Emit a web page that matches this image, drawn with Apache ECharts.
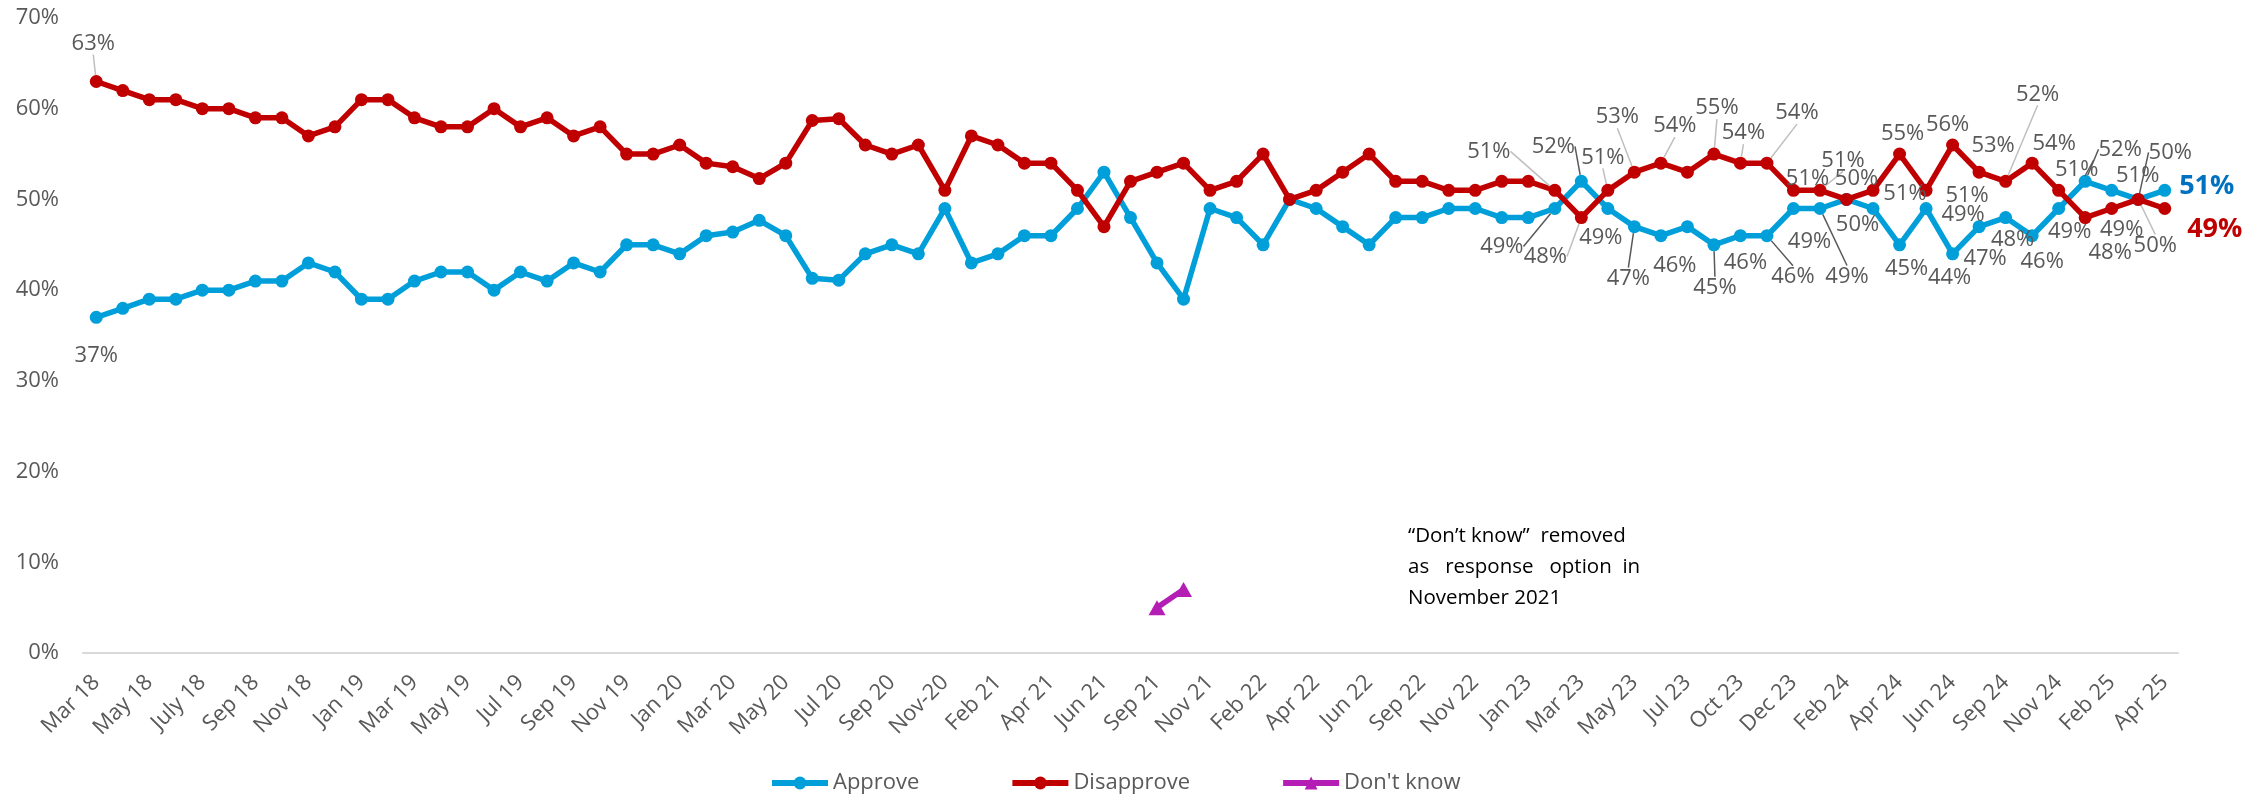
<!DOCTYPE html>
<html>
<head>
<meta charset="utf-8">
<script src="https://cdn.jsdelivr.net/npm/echarts@6/dist/echarts.min.js"></script>
<style>
html,body{margin:0;padding:0;background:#ffffff;}
#chart{width:2246px;height:795px;}
</style>
</head>
<body>
<div id="chart"></div>
<script>
// ---- tick labels (every second survey) ----
const tickLabels = ['Mar 18','May 18','July 18','Sep 18','Nov 18','Jan 19','Mar 19','May 19','Jul 19','Sep 19',
  'Nov 19','Jan 20','Mar 20','May 20','Jul 20','Sep 20','Nov-20','Feb 21','Apr 21','Jun 21',
  'Sep 21','Nov 21','Feb 22','Apr 22','Jun 22','Sep 22','Nov 22','Jan 23','Mar 23','May 23',
  'Jul 23','Oct 23','Dec 23','Feb 24','Apr 24','Jun 24','Sep 24','Nov 24','Feb 25','Apr 25'];

// ---- series values (%) ----
const approve = [37,38,39,39,40,40,41,41,43,42,
  39,39,41,42,42,40,42,41,43,42,
  45,45,44,46,46.4,47.7,46,41.3,41.1,44,
  45,44,49,43,44,46,46,49,53,48,
  43,39,49,48,45,50,49,47,45,48,
  48,49,49,48,48,49,52,49,47,46,
  47,45,46,46,49,49,50,49,45,49,
  44,47,48,46,49,52,51,50,51];
const disapprove = [63,62,61,61,60,60,59,59,57,58,
  61,61,59,58,58,60,58,59,57,58,
  55,55,56,54,53.6,52.3,54,58.7,58.9,56,
  55,56,51,57,56,54,54,51,47,52,
  53,54,51,52,55,50,51,53,55,52,
  52,51,51,52,52,51,48,51,53,54,
  53,55,54,54,51,51,50,51,55,51,
  56,53,52,54,51,48,49,50,49];
const dontKnowIndex = [40, 41];
const dontKnow = [5, 7];

// categories: one per survey, named at every second survey
const categories = [];
for (let i = 0; i < approve.length; i++) categories.push(i % 2 === 0 ? tickLabels[i / 2] : '');

// ---- label placement: dataIndex -> [dx, dy, leader, boldColor] ----
const approveLabels = {
  0:[0,38], 55:[-53,38,1], 56:[-28,-35,1], 57:[-7,29], 58:[-6,52,1], 59:[14,30],
  61:[1,43,1], 62:[5,27], 63:[26,41,1], 64:[16,33], 65:[27,68,1], 66:[11,25],
  68:[7,24], 69:[37,6], 70:[-3,24], 71:[6,32], 72:[7,22], 73:[10,26], 74:[11,23],
  75:[35,-32,1], 76:[26,-15], 77:[32,-47,1], 78:[42,-4,0,'#0070C0']
};
const disapproveLabels = {
  0:[-3,-38,1], 55:[-66,-39,1], 56:[-36,39,1], 57:[-5,-33,1], 58:[-17,-55,1], 59:[14,-37,1],
  61:[3,-46,1], 62:[3,-30,1], 63:[30,-50,1], 64:[14,-12], 65:[23,-30,1], 66:[10,-21],
  67:[32,3], 68:[3,-20], 69:[41,5], 70:[-5,-20], 71:[14,-26], 72:[32,-87,1], 73:[22,-19],
  74:[18,-21], 75:[25,35], 76:[10,21], 77:[17,46,1], 78:[50,21,0,'#C00000']
};

const BLUE = '#009FDA', RED = '#C00000', PURPLE = '#B41EB4';
const GREY = '#595959';
const FONT = '"Open Sans", "Noto Sans", sans-serif';

function buildData(values, labels, leaderColor) {
  return values.map((v, i) => {
    const L = labels[i];
    if (!L) return v;
    const item = { value: v, label: { show: true } };
    if (L[3]) item.label = { show: true, fontWeight: 'bold', fontSize: 27, color: L[3] };
    if (L[2]) item.labelLine = { show: true, lineStyle: { color: leaderColor, width: 1.5 } };
    return item;
  });
}

const labelBase = {
  show: false, position: 'inside', formatter: '{c}%', color: GREY,
  fontSize: 22, fontFamily: FONT, align: 'center', verticalAlign: 'middle'
};

const chart = echarts.init(document.getElementById('chart'), null, { renderer: 'canvas' });
chart.setOption({
  animation: false,
  backgroundColor: '#ffffff',
  grid: { left: 83, right: 68, top: 18, bottom: 142, containLabel: false },
  xAxis: {
    type: 'category', data: categories, boundaryGap: true,
    axisLine: { lineStyle: { color: '#D9D9D9', width: 2 } },
    axisTick: { show: false },
    axisLabel: { interval: 1, rotate: 45, color: GREY, fontSize: 22, fontFamily: FONT, margin: 26 }
  },
  yAxis: {
    type: 'value', min: 0, max: 70, interval: 10,
    axisLine: { show: false }, axisTick: { show: false }, splitLine: { show: false },
    axisLabel: { formatter: '{value}%', color: GREY, fontSize: 22, fontFamily: FONT, margin: 24 }
  },
  legend: {
    data: ['Approve', 'Disapprove', "Don't know"],
    left: 764, top: 767, itemWidth: 56, itemHeight: 16, itemGap: 90,
    lineStyle: { width: 6 },
    textStyle: { fontFamily: FONT, fontSize: 22, color: GREY }
  },
  graphic: [{
    type: 'text', left: 1408, top: 521,
    style: {
      text: '\u201CDon\u2019t know\u201D  removed\nas   response   option  in\nNovember 2021',
      font: '20.5px "Open Sans", sans-serif', fill: '#000000', lineHeight: 31
    }
  }],
  series: [
    {
      name: 'Approve', type: 'line', data: buildData(approve, approveLabels, '#595959'),
      symbol: 'circle', symbolSize: 13, showAllSymbol: true,
      lineStyle: { color: BLUE, width: 5.5 }, itemStyle: { color: BLUE },
      label: labelBase, z: 3,
      labelLayout: (p) => { const L = approveLabels[p.dataIndex]; return L ? { dx: L[0], dy: L[1] } : {}; }
    },
    {
      name: 'Disapprove', type: 'line', data: buildData(disapprove, disapproveLabels, '#BFBFBF'),
      symbol: 'circle', symbolSize: 13, showAllSymbol: true,
      lineStyle: { color: RED, width: 5.5 }, itemStyle: { color: RED },
      label: labelBase, z: 4,
      labelLayout: (p) => { const L = disapproveLabels[p.dataIndex]; return L ? { dx: L[0], dy: L[1] } : {}; }
    },
    {
      name: "Don't know", type: 'line',
      data: dontKnowIndex.map((idx, k) => [idx, dontKnow[k]]),
      symbol: 'triangle', symbolSize: [17, 15], showAllSymbol: true,
      lineStyle: { color: PURPLE, width: 5.5 }, itemStyle: { color: PURPLE }, z: 3
    }
  ]
});
</script>
</body>
</html>
